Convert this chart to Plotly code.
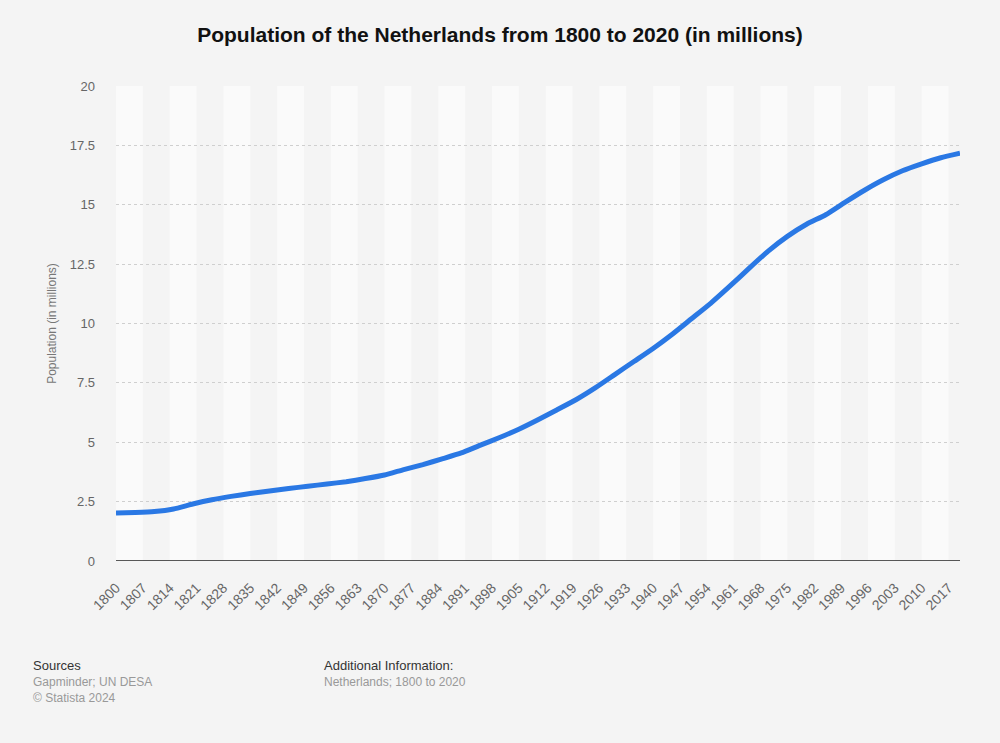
import plotly.graph_objects as go

years = [1800, 1805, 1810, 1815, 1820, 1825, 1830, 1835, 1840, 1845, 1850, 1855, 1860, 1865,
         1870, 1875, 1880, 1885, 1890, 1895, 1900, 1905, 1910, 1915, 1920, 1925, 1930, 1935,
         1940, 1945, 1950, 1955, 1960, 1965, 1970, 1975, 1980, 1985, 1990, 1995, 2000, 2005,
         2010, 2015, 2020]
population = [2.02, 2.04, 2.08, 2.19, 2.40, 2.58, 2.72, 2.84, 2.95, 3.05, 3.15, 3.24, 3.34, 3.47,
              3.62, 3.85, 4.06, 4.30, 4.55, 4.88, 5.20, 5.55, 5.95, 6.37, 6.80, 7.30, 7.85, 8.40,
              8.95, 9.55, 10.20, 10.85, 11.57, 12.32, 13.05, 13.67, 14.18, 14.58, 15.10, 15.60,
              16.05, 16.43, 16.72, 16.98, 17.17]
tick_years = list(range(1800, 2018, 7))
y_ticks = [0, 2.5, 5, 7.5, 10, 12.5, 15, 17.5, 20]

fig = go.Figure()
fig.add_trace(go.Scatter(x=years, y=population, mode="lines",
                         line=dict(color="#2a78e4", width=5, shape="spline", smoothing=0.5),
                         hoverinfo="x+y", showlegend=False))

shapes = []
for i in range(0, len(tick_years) - 1, 2):
    shapes.append(dict(type="rect", xref="x", yref="paper", x0=tick_years[i], x1=tick_years[i + 1],
                       y0=0, y1=1, fillcolor="#fafafa", line=dict(width=0), layer="below"))

fig.update_layout(
    width=1000, height=743,
    paper_bgcolor="#f4f4f4", plot_bgcolor="#f4f4f4",
    margin=dict(l=116, r=40, t=86, b=182, autoexpand=False),
    shapes=shapes,
    title=dict(text="<b>Population of the Netherlands from 1800 to 2020 (in millions)</b>",
               x=0.5, xanchor="center", y=0.953, yanchor="middle",
               font=dict(family="Liberation Sans, Arial", size=21, color="#111")),
    font=dict(family="Liberation Sans, Arial", size=12, color="#666"),
    xaxis=dict(range=[1800, 2020], tickvals=tick_years, tickangle=-45, showgrid=False,
               zeroline=False, showline=False, ticks="", automargin=False,
               ticklabelstandoff=15, tickfont=dict(size=14, color="#666")),
    yaxis=dict(range=[0, 20], tickvals=y_ticks, showgrid=True, gridcolor="#cfcfcf",
               griddash="dot", gridwidth=1, zeroline=False, showline=False, ticks="",
               ticklabelstandoff=20, automargin=False,
               title=dict(text="Population (in millions)", font=dict(size=12, color="#777"), standoff=10),
               tickfont=dict(size=13, color="#666")),
)
fig.add_shape(type="line", xref="paper", yref="y", x0=0, x1=1, y0=0, y1=0,
              line=dict(color="#222", width=1.6))

annots = [
    dict(text="Sources", x=31, y=665, size=13, color="#333"),
    dict(text="Gapminder; UN DESA", x=31, y=682, size=12, color="#999"),
    dict(text="© Statista 2024", x=31, y=698, size=12, color="#999"),
    dict(text="Additional Information:", x=322, y=665, size=13, color="#333"),
    dict(text="Netherlands; 1800 to 2020", x=322, y=682, size=12, color="#999"),
]
for a in annots:
    fig.add_annotation(text=a["text"], xref="paper", yref="paper",
                       x=(a["x"] - 116) / 844, y=(561 - a["y"]) / 475,
                       xanchor="left", yanchor="middle", showarrow=False,
                       font=dict(size=a["size"], color=a["color"], family="Liberation Sans, Arial"))

fig.write_html("out.html", config={"displayModeBar": False},
               post_script="document.body.style.margin='0';")
